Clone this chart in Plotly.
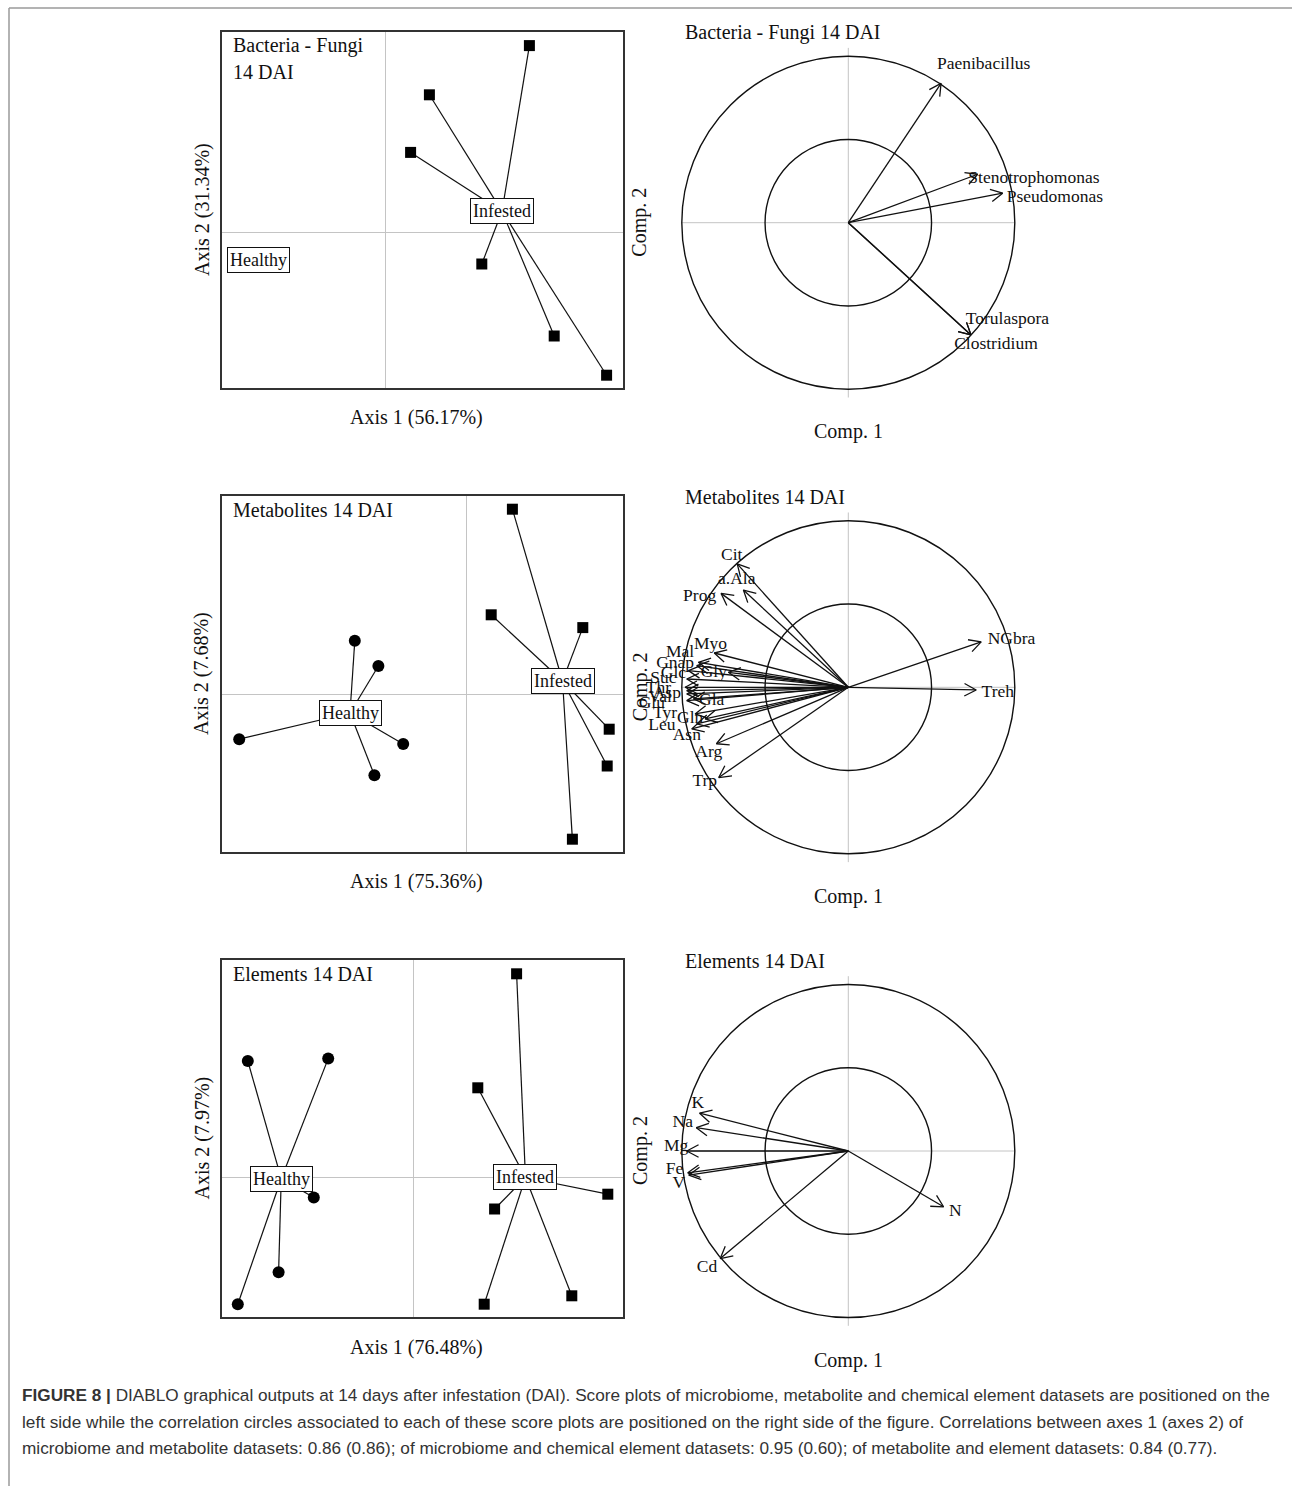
import numpy as np
import plotly.graph_objects as go

W, H = 1292, 1486
SERIF = "Liberation Serif, Times New Roman, serif"
SANS = "Liberation Sans, Arial, sans-serif"

# ---------------- score plots (sample coordinates, axis units) ----------------
bf_inf_x = [3.61, 1.11, 0.64, 2.42, 4.23, 5.54]
bf_inf_y = [4.66, 3.43, 1.99, -0.80, -2.60, -3.58]
bf_healthy_xy = (-3.17, -0.70)

met_inf_x = [1.16, 0.63, 2.92, 3.58, 3.53, 2.66]
met_inf_y = [4.62, 1.98, 1.66, -0.88, -1.80, -3.63]
met_hea_x = [-2.78, -2.19, -5.67, -1.57, -2.29]
met_hea_y = [1.33, 0.70, -1.13, -1.25, -2.03]

el_inf_x = [2.59, 1.62, 4.87, 2.04, 3.97, 1.78]
el_inf_y = [5.08, 2.23, -0.43, -0.80, -2.97, -3.18]
el_hea_x = [-4.13, -2.12, -2.48, -3.36, -4.38]
el_hea_y = [2.90, 2.96, -0.51, -2.38, -3.18]

# ---------------- correlation circles ----------------
bf_vars = ["Paenibacillus", "Stenotrophomonas", "Pseudomonas", "Torulaspora", "Clostridium"]
bf_c1 = [0.557, 0.777, 0.927, 0.737, 0.737]
bf_c2 = [0.837, 0.291, 0.177, -0.674, -0.674]
bf_lab_x = [0.813, 1.115, 1.241, 0.956, 0.887]
bf_lab_y = [0.947, 0.262, 0.148, -0.580, -0.734]

met_vars = ["Cit", "a.Ala", "Prog", "Myo", "Mal", "Gnap", "Glc", "Gly", "Suc", "Thr", "Asp",
            "Val", "Gla", "Glu", "Tyr", "Gln", "Leu", "Asn", "Arg", "Trp", "NGbra", "Treh"]
met_c1 = [-0.667, -0.630, -0.764, -0.805, -0.90, -0.91, -0.96, -0.72, -0.97, -0.98, -0.97,
          -0.97, -0.93, -0.97, -0.92, -0.86, -0.91, -0.94, -0.792, -0.778, 0.798, 0.768]
met_c2 = [0.741, 0.584, 0.564, 0.206, 0.150, 0.130, 0.100, 0.090, 0.050, 0.000, -0.020,
          -0.040, -0.070, -0.080, -0.160, -0.190, -0.220, -0.250, -0.339, -0.542, 0.273, -0.016]
met_lab_x = [-0.700, -0.670, -0.893, -0.828, -1.010, -1.040, -1.050, -0.808, -1.110, -1.140, -1.090,
             -1.130, -0.820, -1.180, -1.100, -0.950, -1.120, -0.970, -0.838, -0.862, 0.980, 0.898]
met_lab_y = [0.790, 0.644, 0.547, 0.257, 0.206, 0.145, 0.085, 0.088, 0.055, -0.006, -0.040,
             -0.060, -0.080, -0.097, -0.158, -0.188, -0.228, -0.289, -0.390, -0.568, 0.286, -0.030]

el_vars = ["K", "Na", "Mg", "Fe", "V", "Cd", "N"]
el_c1 = [-0.893, -0.913, -0.970, -0.964, -0.958, -0.769, 0.572]
el_c2 = [0.227, 0.140, 0.000, -0.131, -0.145, -0.646, -0.335]
el_lab_x = [-0.904, -0.994, -1.034, -1.044, -1.018, -0.849, 0.643]
el_lab_y = [0.283, 0.170, 0.026, -0.114, -0.195, -0.700, -0.366]


def px(x):
    return x / W


def py(y):
    return 1 - y / H


def spokes(xs, ys, cx, cy):
    lx, ly = [], []
    for x, y in zip(xs, ys):
        lx += [cx, x, None]
        ly += [cy, y, None]
    return lx, ly


def arrows(c1, c2, head=0.08, ang=np.radians(28)):
    ax_, ay_ = [], []
    for x, y in zip(c1, c2):
        ax_ += [0, x, None]
        ay_ += [0, y, None]
        th = np.arctan2(y, x)
        ax_ += [x - head * np.cos(th + ang), x, x - head * np.cos(th - ang), None]
        ay_ += [y - head * np.sin(th + ang), y, y - head * np.sin(th - ang), None]
    return ax_, ay_


fig = go.Figure()
annos = []
shapes = []

# ---------- left column: score plots ----------
score_panels = [
    ("", [-4.075, 5.95], [-3.9, 5.0], (32, 388),
     [(bf_inf_x, bf_inf_y, "square", "Infested")], ["Bacteria - Fungi", "14 DAI"],
     "Axis 1 (56.17%)", "Axis 2 (31.34%)"),
    ("2", [-6.1, 3.925], [-3.95, 4.95], (496, 852),
     [(met_inf_x, met_inf_y, "square", "Infested"), (met_hea_x, met_hea_y, "circle", "Healthy")],
     ["Metabolites 14 DAI"], "Axis 1 (75.36%)", "Axis 2 (7.68%)"),
    ("3", [-4.775, 5.25], [-3.5, 5.425], (960, 1317),
     [(el_inf_x, el_inf_y, "square", "Infested"), (el_hea_x, el_hea_y, "circle", "Healthy")],
     ["Elements 14 DAI"], "Axis 1 (76.48%)", "Axis 2 (7.97%)"),
]

label_box = dict(font=dict(family=SERIF, size=18, color="#111"), bgcolor="white",
                 bordercolor="#111", borderwidth=1, borderpad=2, showarrow=False)

for k, xr, yr, (top, bot), groups, title, xt, yt in score_panels:
    xa, ya = "x" + k, "y" + k
    fig.update_layout(**{
        "xaxis" + k: dict(domain=[px(222), px(623)], range=xr, anchor=ya, showgrid=False,
                          zeroline=True, zerolinecolor="#c4c4c4", zerolinewidth=1,
                          showline=True, mirror=True, linecolor="#333", linewidth=1.5,
                          ticks="", showticklabels=False),
        "yaxis" + k: dict(domain=[py(bot), py(top)], range=yr, anchor=xa, showgrid=False,
                          zeroline=True, zerolinecolor="#c4c4c4", zerolinewidth=1,
                          showline=True, mirror=True, linecolor="#333", linewidth=1.5,
                          ticks="", showticklabels=False),
    })
    for gx, gy, sym, name in groups:
        cx, cy = float(np.mean(gx)), float(np.mean(gy))
        lx, ly = spokes(gx, gy, cx, cy)
        fig.add_trace(go.Scatter(x=lx, y=ly, mode="lines", line=dict(color="#111", width=1.2),
                                 xaxis=xa, yaxis=ya, showlegend=False, hoverinfo="skip"))
        fig.add_trace(go.Scatter(x=gx, y=gy, mode="markers", xaxis=xa, yaxis=ya, showlegend=False,
                                 marker=dict(symbol=sym, size=12 if sym == "circle" else 11, color="#000")))
        annos.append(dict(x=cx, y=cy, xref=xa, yref=ya, text=name, **label_box))
    for i, t in enumerate(title):
        annos.append(dict(x=px(231), y=py(top + 14 + 26 * i), xref="paper", yref="paper", text=t,
                          showarrow=False, xanchor="left", yanchor="middle",
                          font=dict(family=SERIF, size=20, color="#111")))
    annos.append(dict(x=px(416), y=py(bot + 30), xref="paper", yref="paper", text=xt, showarrow=False,
                      xanchor="center", yanchor="middle", font=dict(family=SERIF, size=20, color="#111")))
    annos.append(dict(x=px(202), y=py((top + bot) / 2), xref="paper", yref="paper", text=yt,
                      showarrow=False, textangle=-90, xanchor="center", yanchor="middle",
                      font=dict(family=SERIF, size=20, color="#111")))

# healthy label of the microbiome panel (no visible samples)
annos.append(dict(x=bf_healthy_xy[0], y=bf_healthy_xy[1], xref="x", yref="y", text="Healthy", **label_box))

# ---------- right column: correlation circles ----------
R = 166.5   # px per unit correlation
SPAN = 1.3
circle_panels = [
    ("4", (848.3, 222.7), bf_vars, bf_c1, bf_c2, bf_lab_x, bf_lab_y, "Bacteria - Fungi 14 DAI"),
    ("5", (848.3, 687.3), met_vars, met_c1, met_c2, met_lab_x, met_lab_y, "Metabolites 14 DAI"),
    ("6", (848.3, 1151.0), el_vars, el_c1, el_c2, el_lab_x, el_lab_y, "Elements 14 DAI"),
]

for k, (cxp, cyp), names, c1, c2, lbx, lby, title in circle_panels:
    xa, ya = "x" + k, "y" + k
    half = SPAN * R
    fig.update_layout(**{
        "xaxis" + k: dict(domain=[px(cxp - half), px(cxp + half)], range=[-SPAN, SPAN], anchor=ya,
                          visible=False),
        "yaxis" + k: dict(domain=[py(cyp + half), py(cyp - half)], range=[-SPAN, SPAN], anchor=xa,
                          visible=False),
    })
    shapes += [
        dict(type="line", xref=xa, yref=ya, x0=-1.0, x1=1.0, y0=0, y1=0,
             line=dict(color="#c4c4c4", width=1), layer="below"),
        dict(type="line", xref=xa, yref=ya, x0=0, x1=0, y0=-1.05, y1=1.05,
             line=dict(color="#c4c4c4", width=1), layer="below"),
        dict(type="circle", xref=xa, yref=ya, x0=-1, x1=1, y0=-1, y1=1,
             line=dict(color="#111", width=1.4)),
        dict(type="circle", xref=xa, yref=ya, x0=-0.5, x1=0.5, y0=-0.5, y1=0.5,
             line=dict(color="#111", width=1.4)),
    ]
    axx, axy = arrows(c1, c2)
    fig.add_trace(go.Scatter(x=axx, y=axy, mode="lines", line=dict(color="#111", width=1.3),
                             xaxis=xa, yaxis=ya, showlegend=False, hoverinfo="skip"))
    fig.add_trace(go.Scatter(x=lbx, y=lby, mode="text", text=names, textposition="middle center",
                             textfont=dict(family=SERIF, size=17.5, color="#111"), cliponaxis=False,
                             xaxis=xa, yaxis=ya, showlegend=False))
    annos.append(dict(x=px(683), y=py(cyp - 190), xref="paper", yref="paper", text=title,
                      showarrow=False, xanchor="left", yanchor="middle",
                      font=dict(family=SERIF, size=20, color="#111")))
    annos.append(dict(x=px(848), y=py(cyp + 209), xref="paper", yref="paper", text="Comp. 1",
                      showarrow=False, xanchor="center", yanchor="middle",
                      font=dict(family=SERIF, size=20, color="#111")))
    annos.append(dict(x=px(640), y=py(cyp), xref="paper", yref="paper", text="Comp. 2",
                      showarrow=False, textangle=-90, xanchor="center", yanchor="middle",
                      font=dict(family=SERIF, size=20, color="#111")))

# ---------- caption ----------
caption = [
    "<b>FIGURE 8 |</b> DIABLO graphical outputs at 14 days after infestation (DAI). Score plots of "
    "microbiome, metabolite and chemical element datasets are positioned on the",
    "left side while the correlation circles associated to each of these score plots are positioned "
    "on the right side of the figure. Correlations between axes 1 (axes 2) of",
    "microbiome and metabolite datasets: 0.86 (0.86); of microbiome and chemical element datasets: "
    "0.95 (0.60); of metabolite and element datasets: 0.84 (0.77).",
]
for i, line in enumerate(caption):
    annos.append(dict(x=px(20), y=py(1395 + 26.5 * i), xref="paper", yref="paper", text=line,
                      showarrow=False, xanchor="left", yanchor="middle",
                      font=dict(family=SANS, size=17.2, color="#333")))

# outer frame
shapes += [
    dict(type="line", xref="paper", yref="paper", x0=px(9), x1=1, y0=py(8), y1=py(8),
         line=dict(color="#9a9a9a", width=1.5)),
    dict(type="line", xref="paper", yref="paper", x0=px(9), x1=px(9), y0=py(8), y1=0,
         line=dict(color="#9a9a9a", width=1.5)),
]

fig.update_layout(width=W, height=H, autosize=False, margin=dict(l=0, r=0, t=0, b=0),
                  paper_bgcolor="white", plot_bgcolor="rgba(0,0,0,0)",
                  annotations=annos, shapes=shapes, showlegend=False)

fig.write_html("out.html", config={"displayModeBar": False},
               post_script="document.body.style.margin='0';")
